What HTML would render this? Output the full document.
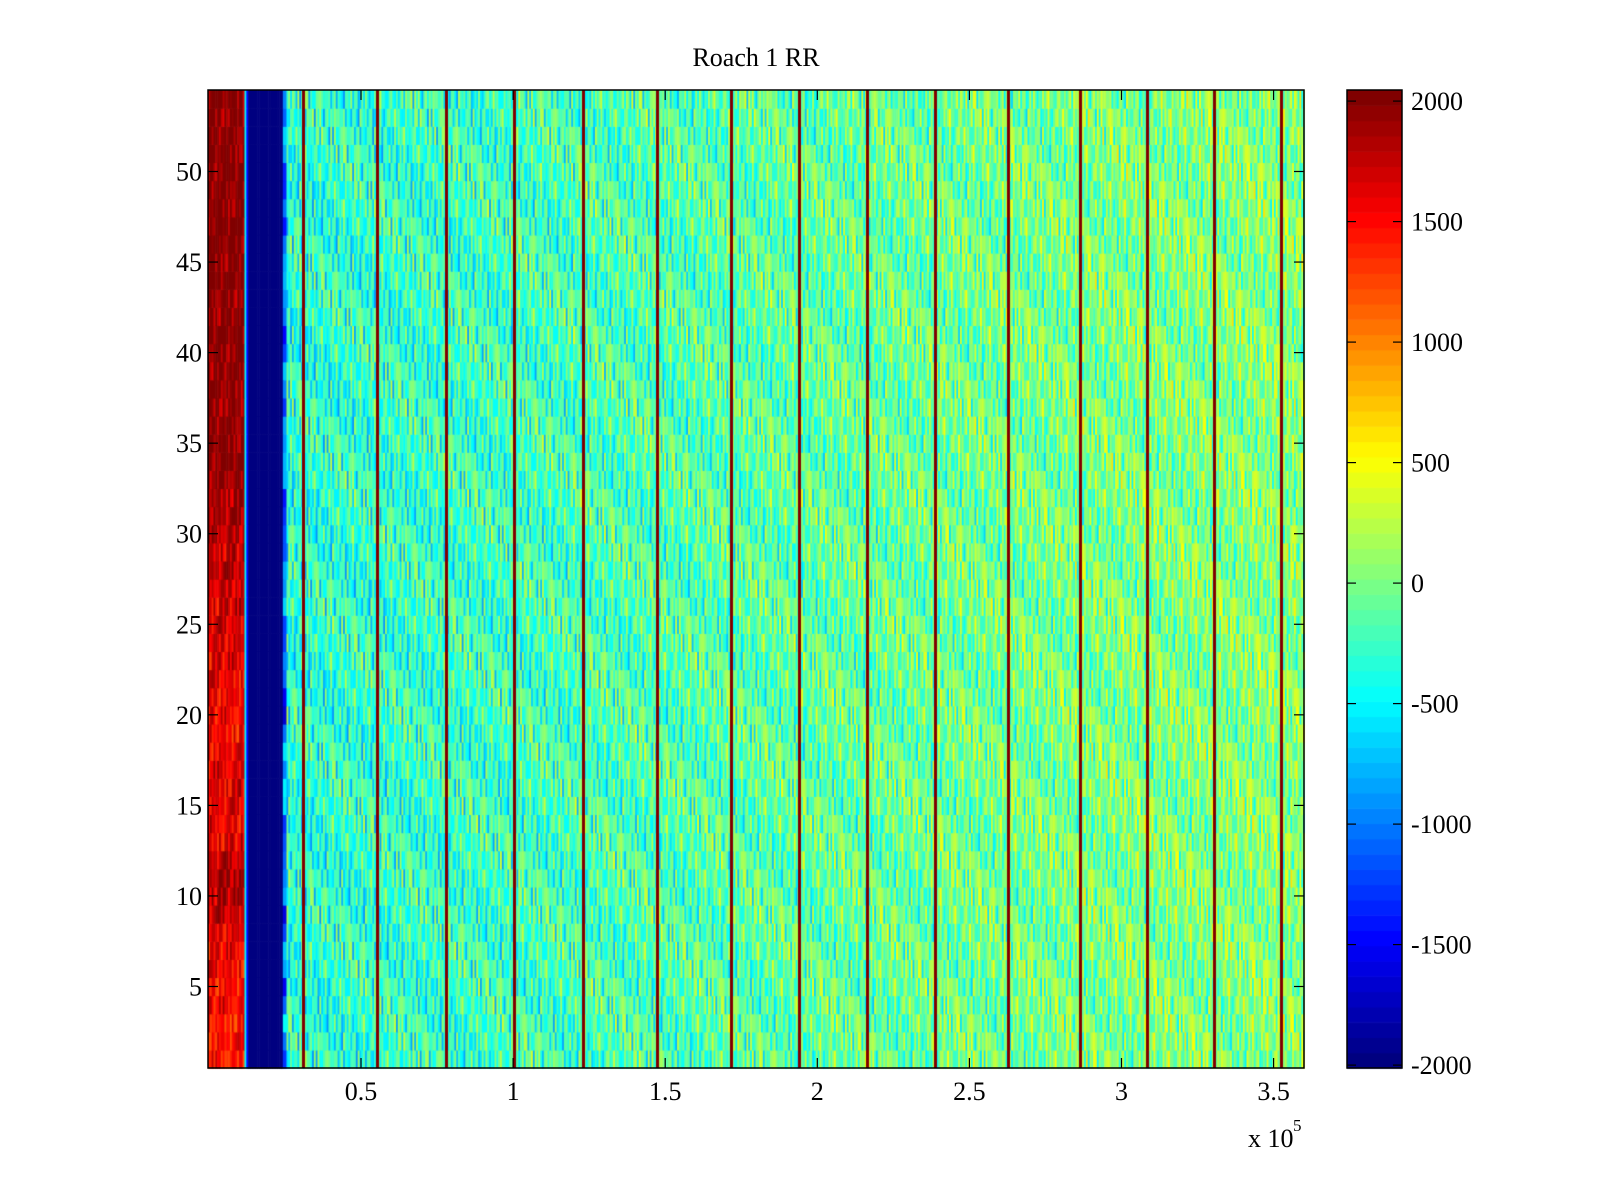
<!DOCTYPE html>
<html><head><meta charset="utf-8"><title>Roach 1 RR</title>
<style>
html,body{margin:0;padding:0;background:#fff;}
#wrap{position:relative;width:1600px;height:1200px;overflow:hidden;}
canvas,svg{position:absolute;left:0;top:0;}
text{font-family:"Liberation Serif",serif;fill:#000;}
</style></head>
<body>
<div id="wrap">
<canvas id="cv" width="1600" height="1200"></canvas>
<svg id="sv" width="1600" height="1200"></svg>
</div>
<script>
// ---- data ----
const xTicks = [0.5e5, 1e5, 1.5e5, 2e5, 2.5e5, 3e5, 3.5e5];
const xTickLabels = ["0.5","1","1.5","2","2.5","3","3.5"];
const yTicks = [5,10,15,20,25,30,35,40,45,50];
const cbTicks = [2000,1500,1000,500,0,-500,-1000,-1500,-2000];
const nRows = 54;
// left red band value per row (row 1..54)
const leftRed = [1450,1500,1480,1550,1520,1600,1580,1650,1750,1850,1900,1750,1650,1600,1620,1680,1650,1600,1580,1550,1600,1620,1650,1700,1680,1720,1750,1800,1780,1820,1850,1900,1950,2050,2050,2000,1950,1980,2000,2020,2050,2030,2000,2050,2050,2060,2060,2050,2030,2050,2060,2000,1980,2050];
// smooth background level per 20k bin starting at 20k
const baseLevels = [-280,-250,-230,-210,-180,-150,-130,-100,-80,-50,-30,0,20,40,60,70,90,110];
// spike (dark red vertical line) positions
const spikes = [0.309e5,0.552e5,0.779e5,1.002e5,1.229e5,1.472e5,1.715e5,1.939e5,2.162e5,2.386e5,2.626e5,2.862e5,3.083e5,3.303e5,3.523e5];
const spikeValue = 2000;
// texture offsets (hand-chosen pattern)
const texture = [120,-380,250,-60,-520,340,30,-210,180,-450,90,-130,410,-300,-20,220,-640,150,-90,300,-250,60,-410,200,-150,480,-40,-330,110,-560,260,10,-200,370,-110,-470,140,-280,40,550,-350,190,-70,-240,320,-500,80,-160,230,-20,-390,430,-120,170,-270,20,-600,280,-50,130,-310];

// ---- scales ----
const PL=208, PR=1304, PT=90, PB=1068;
const XMIN=-0.003e5, XMAX=3.6e5;
const xS = v => PL + (v-XMIN)/(XMAX-XMIN)*(PR-PL);
const yS = v => PT + (54.5-v)/54*(PB-PT);
const CMIN=-2012, CMAX=2046;
function jet(v){
  let t=(v-CMIN)/(CMAX-CMIN); t=Math.max(0,Math.min(1,t));
  let i=Math.min(63,Math.floor(t*64)); t=i/63;
  const c=x=>Math.round(255*Math.max(0,Math.min(1,x)));
  return `rgb(${c(1.5-Math.abs(4*t-3))},${c(1.5-Math.abs(4*t-2))},${c(1.5-Math.abs(4*t-1))})`;
}
function cellValue(x,r,c){
  if(x<11500) return leftRed[r-1] + texture[(c*7+r*11)%texture.length]*0.6;
  if(x<12300) return -550;
  if(x<12900) return -1500;
  if(x<24300) return -2000;
  if(x<25300) return -1000 + texture[(r*13)%texture.length];
  let bi=Math.min(baseLevels.length-1,Math.max(0,Math.floor((x-20000)/20000)));
  return baseLevels[bi] + texture[(c*17+r*29+Math.floor(c/3)*5)%texture.length];
}

// ---- draw heatmap ----
const ctx=document.getElementById('cv').getContext('2d');
const step=600;
for(let r=1;r<=nRows;r++){
  const y0=yS(r+0.5), y1=yS(r-0.5);
  for(let c=0; c*step+XMIN<XMAX; c++){
    const xa=XMIN+c*step, xb=Math.min(XMAX,xa+step);
    const v=cellValue(xa+step/2,r,c);
    ctx.fillStyle=jet(v);
    const px0=xS(xa), px1=xS(xb);
    ctx.fillRect(px0,y0,px1-px0+0.6,y1-y0+0.6);
  }
}
// spike columns
spikes.forEach(s=>{
  ctx.fillStyle=jet(spikeValue);
  ctx.fillRect(Math.round(xS(s))-1,PT,3,PB-PT);
});
// colorbar
const CL=1347, CR=1402;
const cbY = v => PT + (CMAX-v)/(CMAX-CMIN)*(PB-PT);
for(let i=0;i<64;i++){
  const va=CMIN+(CMAX-CMIN)*i/64, vb=CMIN+(CMAX-CMIN)*(i+1)/64;
  ctx.fillStyle=jet((va+vb)/2);
  ctx.fillRect(CL,cbY(vb),CR-CL,cbY(va)-cbY(vb)+0.6);
}

// ---- axes overlay ----
const sv=document.getElementById('sv');
const NS='http://www.w3.org/2000/svg';
function mk(tag,attrs,parent){const e=document.createElementNS(NS,tag);for(const k in attrs)e.setAttribute(k,attrs[k]);(parent||sv).appendChild(e);return e;}
let e;
e=mk('rect',{x:PL,y:PT,width:PR-PL,height:PB-PT,fill:'none',stroke:'#000','stroke-width':1.5});


e=mk('rect',{x:CL,y:PT,width:CR-CL,height:PB-PT,fill:'none',stroke:'#000','stroke-width':1.5});


xTicks.forEach((t,i)=>{
  const x=xS(t);
  mk('line',{x1:x,y1:PB,x2:x,y2:PB-10,stroke:'#000','stroke-width':1.2});
  mk('line',{x1:x,y1:PT,x2:x,y2:PT+10,stroke:'#000','stroke-width':1.2});
  const tx=mk('text',{x:x,y:1100,'font-size':26,'text-anchor':'middle'});
  tx.textContent=xTickLabels[i];
  
  
});
yTicks.forEach(t=>{
  const y=yS(t);
  mk('line',{x1:PL,y1:y,x2:PL+10,y2:y,stroke:'#000','stroke-width':1.2});
  mk('line',{x1:PR,y1:y,x2:PR-10,y2:y,stroke:'#000','stroke-width':1.2});
  const tx=mk('text',{x:202,y:y+9,'font-size':26,'text-anchor':'end'});
  tx.textContent=String(t);
  
  
});
cbTicks.forEach(t=>{
  const y=cbY(t);
  mk('line',{x1:CL,y1:y,x2:CL+9,y2:y,stroke:'#000','stroke-width':1.2});
  mk('line',{x1:CR,y1:y,x2:CR-9,y2:y,stroke:'#000','stroke-width':1.2});
  const tx=mk('text',{x:1411,y:y+9,'font-size':26});
  tx.textContent=String(t);
  
  
});
e=mk('text',{x:756,y:66,'font-size':26,'text-anchor':'middle'});
e.textContent='Roach 1 RR';


e=mk('text',{x:1248,y:1147,'font-size':26});
e.textContent='x 10';


e=mk('text',{x:1293,y:1131,'font-size':17});
e.textContent='5';


</script>
</body></html>
